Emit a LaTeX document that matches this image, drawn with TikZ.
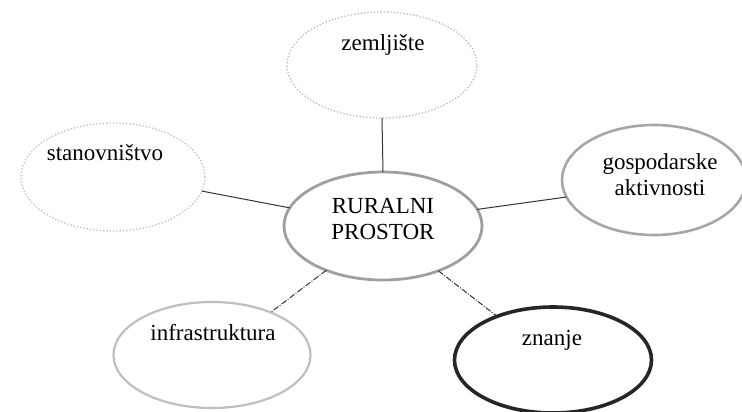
\documentclass[tikz,border=0pt]{standalone}
\usepackage{fontspec}
\setmainfont{Liberation Serif}
\usetikzlibrary{shapes.geometric}
\begin{document}
\begin{tikzpicture}[x=1pt,y=-1pt,
  oval/.style={ellipse,inner sep=0pt,outer sep=0pt},
  lbl/.style={font=\fontsize{23}{26}\selectfont,align=center,inner sep=0pt},
  conn/.style={draw=black!80,line width=1pt}]
\useasboundingbox (0,0) rectangle (742,412);
% ellipses
\node[oval,minimum width=190pt,minimum height=106pt,draw=gray!55,line width=1.3pt,dotted] (zem) at (382,65) {};
\node[oval,minimum width=184pt,minimum height=108pt,draw=gray!50,line width=1.3pt,dotted] (sta) at (113,177) {};
\node[oval,minimum width=198pt,minimum height=108pt,draw=gray!75,line width=2.8pt] (cen) at (383,226) {};
\node[oval,minimum width=184pt,minimum height=110pt,draw=gray!70,line width=2.6pt] (gos) at (654,180) {};
\node[oval,minimum width=197pt,minimum height=106pt,draw=gray!50,line width=2.2pt] (inf) at (212,355) {};
\node[oval,minimum width=197pt,minimum height=106pt,draw=black!85,line width=3.6pt] (zna) at (553,360) {};
% labels
\node[lbl] (zemt) at (383,45) {zemljište};
\node[lbl] (stat) at (105,153) {stanovništvo};
\node[lbl] (cent) at (383,219) {RURALNI\\PROSTOR};
\node[lbl] (gost) at (660,175) {gospodarske\\aktivnosti};
\node[lbl] (inft) at (213,333) {infrastruktura};
\node[lbl] (znat) at (552,340) {znanje};
% connectors
\draw[conn] (zem.south) -- (cen.north);
\draw[conn] (sta.-9) -- (cen.169);
\draw[conn] (cen.10) -- (gos.191);
\draw[conn,dash pattern=on 6pt off 1.5pt on 1pt off 1.5pt] (cen.218) -- (inf.36);
\draw[conn,dash pattern=on 6pt off 1.5pt on 1pt off 1.5pt] (cen.321) -- (zna.142);
\end{tikzpicture}
\end{document}
